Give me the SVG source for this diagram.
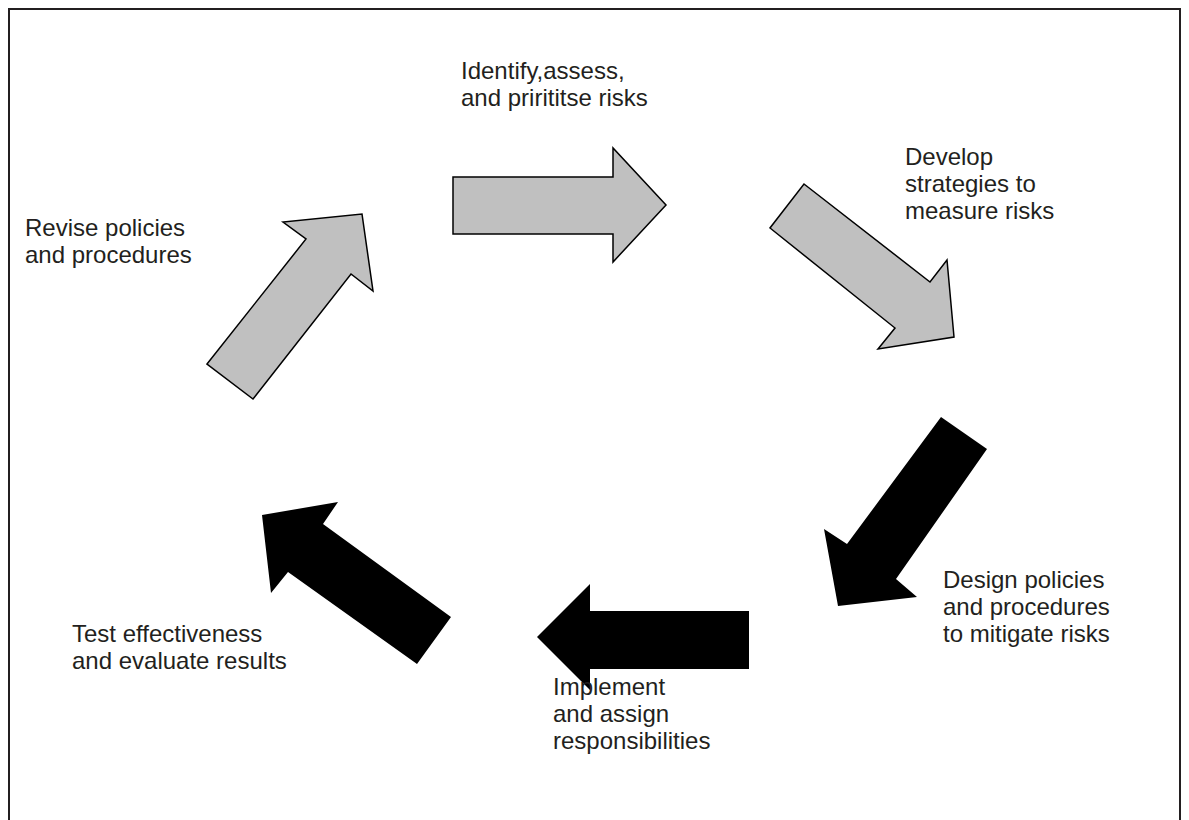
<svg xmlns="http://www.w3.org/2000/svg" width="1189" height="820" viewBox="0 0 1189 820">
<style>
.lbl{font-family:"Liberation Sans",Arial,sans-serif;font-size:24px;fill:#231f20}
.g{fill:#c0c0c0;stroke:#000;stroke-width:1.5;stroke-linejoin:miter}
.b{fill:#000;stroke:none}
</style>
<rect width="1189" height="820" fill="#fff"/>
<path d="M9,820 V9 H1180 V820" fill="none" stroke="#231f20" stroke-width="2"/>
<g id="connectors">
<polygon id="a1" class="g" points="453,177 613,177 613,148 666,205 613,262 613,234 453,234"/>
<polygon id="a2" class="g" points="804,184 930,282 947,260 954,337 878,349 895,328 770,228"/>
<polygon id="a3" class="b" points="941,417 987,449 896,579 917,597 838,606 824,529 847,544"/>
<polygon id="a4" class="b" points="749,611 590,611 590,584 537,637 590,690 590,669 749,669"/>
<polygon id="a5" class="b" points="451,617 417,664 288,572 271,593 262,515 338,502 323,524"/>
<polygon id="a6" class="g" points="207,364 306,239 283,222 362,214 373,291 351,274 253,399"/>
</g>
<g id="n1"><text class="lbl" x="461" y="79">Identify,assess,</text><text class="lbl" x="461" y="106">and prirititse risks</text></g>
<g id="n2"><text class="lbl" x="905" y="165">Develop</text><text class="lbl" x="905" y="192">strategies to</text><text class="lbl" x="905" y="219">measure risks</text></g>
<g id="n3"><text class="lbl" x="943" y="588">Design policies</text><text class="lbl" x="943" y="615">and procedures</text><text class="lbl" x="943" y="642">to mitigate risks</text></g>
<g id="n4"><text class="lbl" x="553" y="695">Implement</text><text class="lbl" x="553" y="722">and assign</text><text class="lbl" x="553" y="749">responsibilities</text></g>
<g id="n5"><text class="lbl" x="72" y="642">Test effectiveness</text><text class="lbl" x="72" y="669">and evaluate results</text></g>
<g id="n6"><text class="lbl" x="25" y="236">Revise policies</text><text class="lbl" x="25" y="263">and procedures</text></g>
</svg>
